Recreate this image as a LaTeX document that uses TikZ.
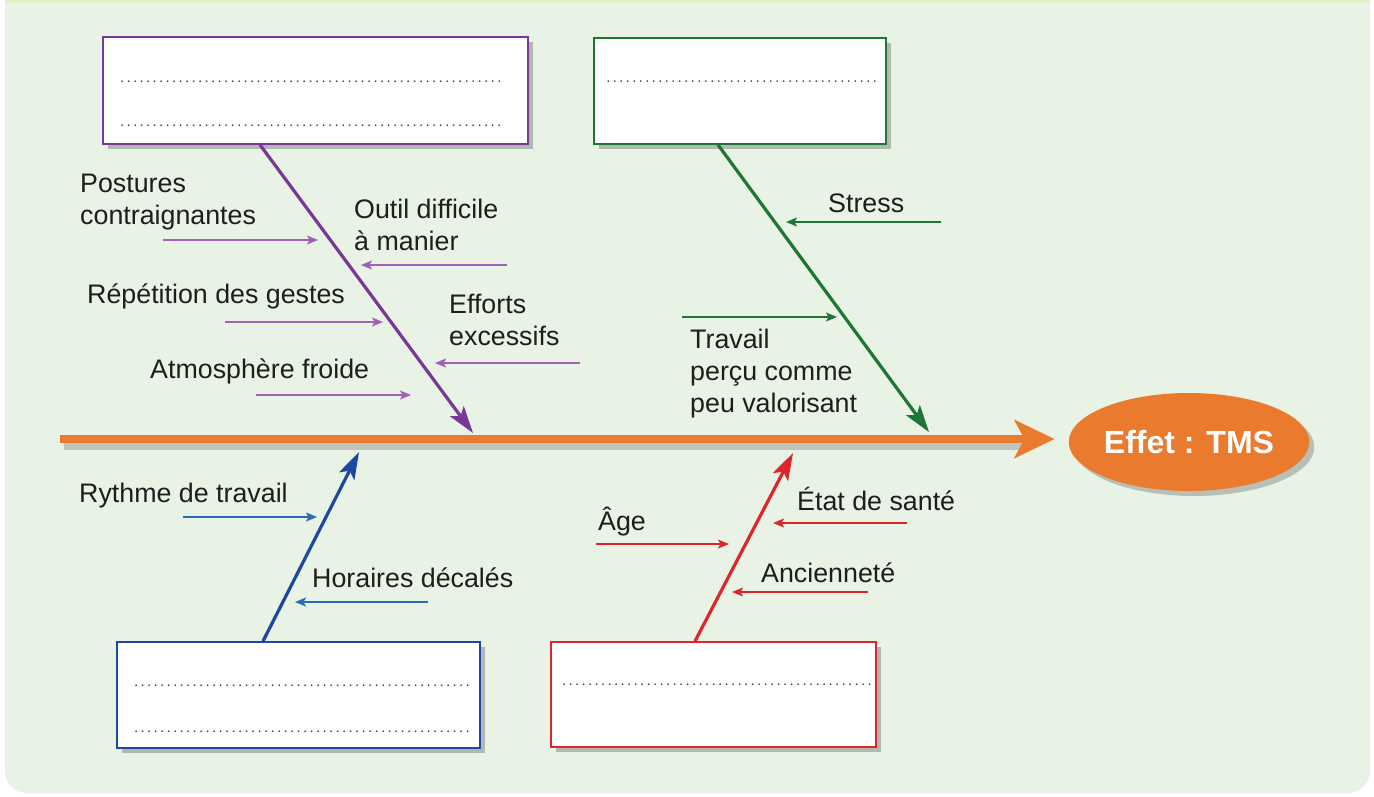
\documentclass[tikz,border=0pt]{standalone}
\usepackage{fontspec}
\setmainfont{Liberation Sans}
\usetikzlibrary{arrows.meta,shapes.geometric,shadows}

\definecolor{bgpanel}{RGB}{232,242,229}
\definecolor{topstrip}{RGB}{226,240,200}
\definecolor{violetC}{RGB}{122,56,150}
\definecolor{violetL}{RGB}{160,98,182}
\definecolor{greenC}{RGB}{28,118,52}
\definecolor{blueC}{RGB}{28,72,160}
\definecolor{blueL}{RGB}{44,108,180}
\definecolor{redC}{RGB}{222,38,42}
\definecolor{orangeC}{RGB}{233,122,46}
\definecolor{inkC}{RGB}{30,30,30}

\begin{document}
\begin{tikzpicture}[x=1pt,y=-1pt,
    causebox/.style={draw=#1, line width=1.6pt, fill=white, inner sep=0pt,
      drop shadow={shadow xshift=5pt, shadow yshift=-5pt, opacity=0.35, fill=black!70}},
    dotline/.style={line width=2pt, gray!60!black, dash pattern=on 0pt off 6.5pt, line cap=round},
    bone/.style={line width=3.2pt, color=#1, -{Stealth[length=27pt,width=17pt,inset=6pt]}},
    twig/.style={line width=1.4pt, color=#1, -{Stealth[length=11pt,width=9pt,inset=2.5pt]}},
    causetxt/.style={font=\fontsize{26.8}{32}\selectfont, text=inkC, inner sep=0pt, align=left},
]
    \path[use as bounding box] (0,0) rectangle (1374,796);

    % panel
    \fill[white] (0,0) rectangle (1374,796);
    \fill[bgpanel, rounded corners=22pt] (5,-40) rectangle (1370,793);
    \fill[topstrip] (5,0) rectangle (1370,3);

    % cause boxes
    \node[causebox=violetC, minimum width=425pt, minimum height=107pt] (violetBox) at (315.5,90.5) {};
    \node[causebox=greenC, minimum width=292pt, minimum height=106pt] (greenBox) at (740,91) {};
    \node[causebox=blueC, minimum width=363pt, minimum height=106pt] (blueBox) at (298.5,695) {};
    \node[causebox=redC, minimum width=325pt, minimum height=105pt] (redBox) at (713.5,694.5) {};

    \draw[dotline] ([shift={(20,45)}]violetBox.north west) -- ([shift={(-24,45)}]violetBox.north east);
    \draw[dotline] ([shift={(20,89)}]violetBox.north west) -- ([shift={(-24,89)}]violetBox.north east);
    \draw[dotline] ([shift={(15,44)}]greenBox.north west) -- ([shift={(-9,44)}]greenBox.north east);
    \draw[dotline] ([shift={(20,44)}]blueBox.north west) -- ([shift={(-13,44)}]blueBox.north east);
    \draw[dotline] ([shift={(20,90)}]blueBox.north west) -- ([shift={(-13,90)}]blueBox.north east);
    \draw[dotline] ([shift={(14,43)}]redBox.north west) -- ([shift={(-4,43)}]redBox.north east);

    % effect and spine
    \node[ellipse, fill=orangeC, minimum width=235pt, minimum height=98pt, inner sep=0pt,
      drop shadow={shadow xshift=5pt, shadow yshift=-5pt, opacity=0.3, fill=black!70},
      font=\bfseries\fontsize{32}{38}\selectfont, text=white] (effet) at (1189,442) {Effet : TMS};
    \coordinate (spineStart) at (60,439);
    \draw[line width=7pt, black, opacity=0.18] ([shift={(4,7)}]spineStart) -- ([shift={(-40,4)}]effet.west);
    \draw[line width=8pt, orangeC, -{Stealth[length=40pt,width=38pt,inset=10pt]}]
      (spineStart) -- ([shift={(-14,-3)}]effet.west);

    % bones
    \coordinate (violetHit) at (473,433);
    \coordinate (greenHit) at (929,432);
    \coordinate (blueHit) at (359,452);
    \coordinate (redHit) at (793,453);
    \draw[bone=violetC] ([xshift=-55.5pt]violetBox.south) -- (violetHit);
    \draw[bone=greenC] ([xshift=-22pt]greenBox.south) -- (greenHit);
    \draw[bone=blueC] ([xshift=-35.5pt]blueBox.north) -- (blueHit);
    \draw[bone=redC] ([xshift=-18.5pt]redBox.north) -- (redHit);

    % violet causes
    \node[causetxt, anchor=north west] (postures) at (80,174) {Postures\\contraignantes};
    \coordinate (posturesIn) at (163,240); \coordinate (posturesOut) at (318,240);
    \draw[twig=violetL] (posturesIn) -- (posturesOut);
    \node[causetxt, anchor=north west] (outil) at (354,199) {Outil difficile\\à manier};
    \coordinate (outilIn) at (507,265); \coordinate (outilOut) at (361,265);
    \draw[twig=violetL] (outilIn) -- (outilOut);
    \node[causetxt, anchor=base west] (repetition) at (87,303) {Répétition des gestes};
    \coordinate (repetitionIn) at (225,322); \coordinate (repetitionOut) at (383,322);
    \draw[twig=violetL] (repetitionIn) -- (repetitionOut);
    \node[causetxt, anchor=north west] (efforts) at (449,294) {Efforts\\excessifs};
    \coordinate (effortsIn) at (580,363); \coordinate (effortsOut) at (435,363);
    \draw[twig=violetL] (effortsIn) -- (effortsOut);
    \node[causetxt, anchor=base west] (atmosphere) at (150,378) {Atmosphère froide};
    \coordinate (atmosphereIn) at (256,395); \coordinate (atmosphereOut) at (411,395);
    \draw[twig=violetL] (atmosphereIn) -- (atmosphereOut);

    % green causes
    \node[causetxt, anchor=base west] (stress) at (828,212) {Stress};
    \coordinate (stressIn) at (941,222); \coordinate (stressOut) at (786,222);
    \draw[twig=greenC] (stressIn) -- (stressOut);
    \node[causetxt, anchor=north west] (travail) at (690,329) {Travail\\perçu comme\\peu valorisant};
    \coordinate (travailIn) at (682,317); \coordinate (travailOut) at (837,317);
    \draw[twig=greenC] (travailIn) -- (travailOut);

    % blue causes
    \node[causetxt, anchor=base west] (rythme) at (79,502) {Rythme de travail};
    \coordinate (rythmeIn) at (183,517); \coordinate (rythmeOut) at (317,517);
    \draw[twig=blueL] (rythmeIn) -- (rythmeOut);
    \node[causetxt, anchor=base west] (horaires) at (312,587) {Horaires décalés};
    \coordinate (horairesIn) at (428,602); \coordinate (horairesOut) at (295,602);
    \draw[twig=blueL] (horairesIn) -- (horairesOut);

    % red causes
    \node[causetxt, anchor=base west] (age) at (598,530) {Âge};
    \coordinate (ageIn) at (596,544); \coordinate (ageOut) at (729,544);
    \draw[twig=redC] (ageIn) -- (ageOut);
    \node[causetxt, anchor=base west] (etat) at (797,510) {État de santé};
    \coordinate (etatIn) at (907,523); \coordinate (etatOut) at (773,523);
    \draw[twig=redC] (etatIn) -- (etatOut);
    \node[causetxt, anchor=base west] (anciennete) at (761,582) {Ancienneté};
    \coordinate (ancienneteIn) at (868,592); \coordinate (ancienneteOut) at (732,592);
    \draw[twig=redC] (ancienneteIn) -- (ancienneteOut);
\end{tikzpicture}
\end{document}
